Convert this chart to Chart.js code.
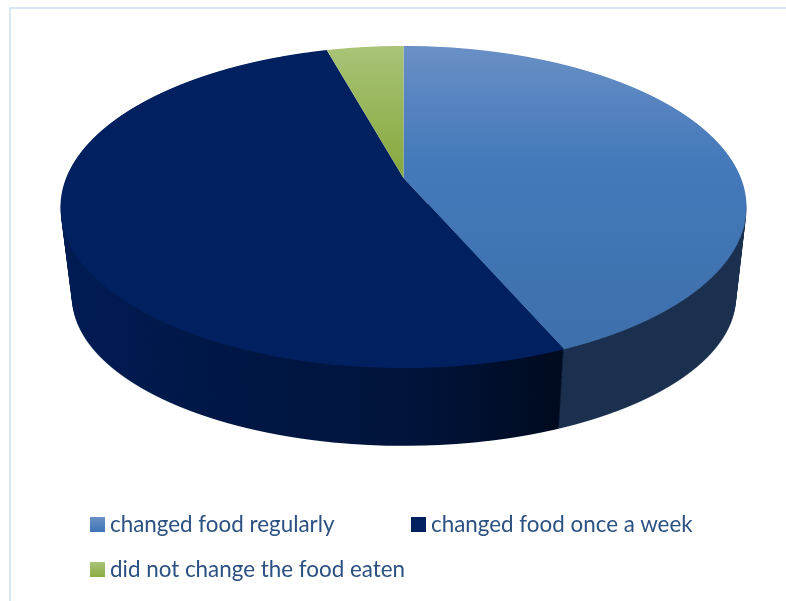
<!DOCTYPE html>
<html>
<head>
<meta charset="utf-8">
<title>Food changes</title>
<script src="https://cdn.jsdelivr.net/npm/chart.js@4"></script>
<style>
    html, body { margin: 0; padding: 0; background: #fff; }
    #wrap { position: relative; width: 786px; height: 601px; overflow: hidden; }
    #frame { position: absolute; left: 9px; top: 7px; width: 790px; height: 610px; border: 2px solid #dae6f4; }
    #foodChart { position: absolute; left: 0; top: 0; }
    .legend-item { position: absolute; height: 30px; line-height: 30px; white-space: nowrap;
        font-family: Lato, sans-serif; font-size: 22.4px; color: #2b5082; }
    .legend-box { position: absolute; left: 0; top: 8px; width: 15px; height: 15px; }
    .legend-text { position: absolute; left: 20px; top: 0; }
</style>
</head>
<body>
<div id="wrap">
    <div id="frame"></div>
    <canvas id="foodChart" width="786" height="601"></canvas>
    <div id="legend"></div>
</div>
<script>
const categories = ['changed food regularly', 'changed food once a week', 'did not change the food eaten'];
const shares = [43.5, 52.2, 4.3];
const baseColors = ['#4a7ebb', '#002060', '#9bbb59'];
const topStops = [['#6a90c6', '#4579ba', '#3e6fab'], ['#002060', '#002060', '#002060'], ['#aac478', '#8aab44', '#8aab44']];
const sideColors = ['#1a304e', '#00205f', null];

// top and bottom faces of the disc, as perspective circles
const topFace = { cx: 403.5, apex: 178, a: 155.8, r: 337.4, p: 0.18 };
const bottomFace = { cx: 404, apex: 270, a: 144.2, r: 326.6, p: 0.18 };
const sideLayers = 46;

// paints one arc element row by row so that the flat circle lands on the perspective face
function paintArc(ctx, arc, fill, face, fromY) {
    const saved = arc.options;
    arc.options = Object.assign({}, saved, { backgroundColor: fill, borderWidth: 0 });
    const first = Math.floor(Math.max(face.apex - face.a / (1 + face.p), fromY));
    const last = Math.ceil(face.apex + face.a / (1 - face.p));
    const toV = y => (y - face.apex) / (face.a + face.p * (y - face.apex));
    for (let y = first; y < last; y++) {
        const v0 = toV(y), v1 = toV(y + 1);
        const s = 1 / (1 - face.p * (v0 + v1) / 2);
        const k = face.r * s / arc.outerRadius;
        const b = 1 / (arc.outerRadius * (v1 - v0));
        ctx.save();
        ctx.beginPath();
        ctx.rect(0, y, 786, 1);
        ctx.clip();
        ctx.setTransform(k, 0, 0, b, face.cx - k * arc.x, y - b * (arc.y + arc.outerRadius * v0));
        arc.draw(ctx);
        ctx.restore();
    }
    arc.options = saved;
}

function faceAt(t) {
    const mix = key => topFace[key] + (bottomFace[key] - topFace[key]) * t;
    return { cx: mix('cx'), apex: mix('apex'), a: mix('a'), r: mix('r'), p: mix('p') };
}

function paintSide(ctx, arc, color) {
    for (let i = sideLayers; i > 0; i--) {
        const face = faceAt(i / sideLayers);
        const widest = face.apex + face.a * face.p / (1 - face.p * face.p);
        paintArc(ctx, arc, color, face, widest - 4);
    }
}

// the wall of the disc and its tilted top, built from the pie's own arcs
const discPlugin = {
    id: 'disc',
    beforeDatasetsDraw(chart) {
        const ctx = chart.ctx;
        const arcs = chart.getDatasetMeta(0).data;

        // navy wall first, then shade it from left to right
        paintSide(ctx, arcs[1], sideColors[1]);
        ctx.save();
        ctx.globalCompositeOperation = 'source-atop';
        const shade = ctx.createLinearGradient(61, 0, 563, 0);
        shade.addColorStop(0, 'rgba(0,0,0,0.1)');
        shade.addColorStop(0.3, 'rgba(0,0,0,0.26)');
        shade.addColorStop(0.7, 'rgba(0,0,0,0.38)');
        shade.addColorStop(1, 'rgba(0,0,0,0.68)');
        ctx.fillStyle = shade;
        ctx.fillRect(0, 0, 786, 601);
        ctx.restore();

        // the lighter wall goes behind the navy one so the seam stays upright
        ctx.save();
        ctx.globalCompositeOperation = 'destination-over';
        paintSide(ctx, arcs[0], sideColors[0]);
        ctx.restore();

        arcs.forEach((arc, i) => {
            const grad = ctx.createLinearGradient(0, arc.y - arc.outerRadius, 0, arc.y + arc.outerRadius);
            grad.addColorStop(0, topStops[i][0]);
            grad.addColorStop(0.45, topStops[i][1]);
            grad.addColorStop(1, topStops[i][2]);
            paintArc(ctx, arc, grad, topFace, 0);
        });
        return false;
    }
};

const chart = new Chart(document.getElementById('foodChart').getContext('2d'), {
    type: 'pie',
    data: {
        labels: categories,
        datasets: [{
            data: shares,
            backgroundColor: baseColors,
            borderWidth: 0
        }]
    },
    options: {
        responsive: false,
        animation: false,
        layout: { padding: 0 },
        plugins: {
            legend: { display: false },
            tooltip: { enabled: false }
        }
    },
    plugins: [discPlugin]
});

// legend is laid out by hand: two entries on the first row, one on the second
const legendSpots = [[90, 509], [411, 509], [90, 554]];
const swatches = ['linear-gradient(#6a90c6, #3e74b6)', '#002060', 'linear-gradient(#aac478, #8aab44)'];
const legendBox = document.getElementById('legend');
chart.options.plugins.legend.labels.generateLabels(chart).forEach((item, i) => {
    const row = document.createElement('div');
    row.className = 'legend-item';
    row.style.left = legendSpots[i][0] + 'px';
    row.style.top = legendSpots[i][1] + 'px';
    const box = document.createElement('span');
    box.className = 'legend-box';
    box.style.background = swatches[i];
    const text = document.createElement('span');
    text.className = 'legend-text';
    text.textContent = item.text;
    row.appendChild(box);
    row.appendChild(text);
    legendBox.appendChild(row);
});
</script>
</body>
</html>
